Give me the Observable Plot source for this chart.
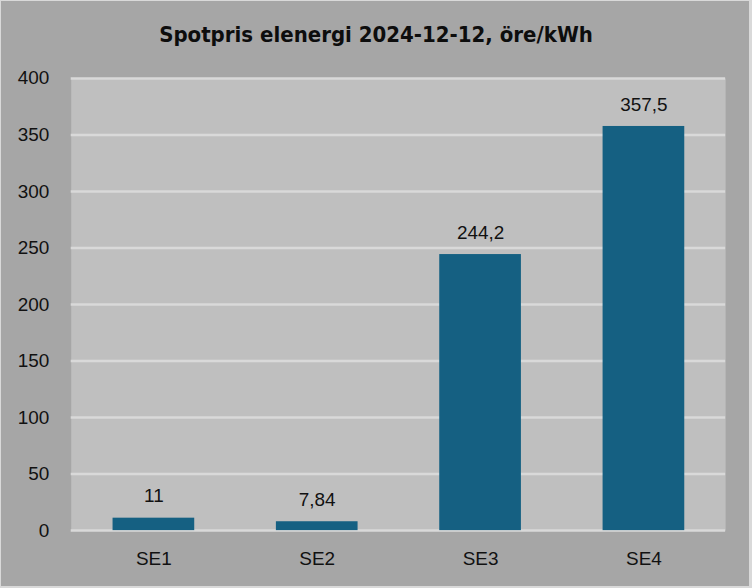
<!DOCTYPE html>
<html>
<head>
<meta charset="utf-8">
<script src="https://cdn.jsdelivr.net/npm/d3@7"></script>
<script src="https://cdn.jsdelivr.net/npm/@observablehq/plot@0.6"></script>
<style>
  html, body { margin: 0; padding: 0; background: #d9d9d9; }
  #frame {
    position: relative; width: 752px; height: 588px; box-sizing: border-box;
    background: #a6a6a6;
    border-left: 1px solid #d9d9d9; border-top: 1px solid #d9d9d9;
    border-right: 3px solid #d9d9d9; border-bottom: 2px solid #d9d9d9;
    overflow: hidden;
  }
  #title {
    position: absolute; left: 0; top: 0; width: 752px; height: 60px;
    display: flex; align-items: center; justify-content: center;
    font-family: "Liberation Sans Narrow", "DejaVu Sans Condensed", sans-serif;
    font-weight: bold; font-size: 22px; color: #0d0d0d;
    padding-top: 6px; box-sizing: border-box; margin-left: -1px;
  }
  #chart { position: absolute; left: -1px; top: 59px; }
</style>
</head>
<body>
<div id="frame">
  <div id="title">Spotpris elenergi 2024-12-12, öre/kWh</div>
  <div id="chart"></div>
</div>
<script>
const categories = ["SE1", "SE2", "SE3", "SE4"];
const prices = [11, 7.84, 244.2, 357.5];
const yTicks = [0, 50, 100, 150, 200, 250, 300, 350, 400];

const data = categories.map((c, i) => ({area: c, price: prices[i]}));
const fmt = v => String(v).replace(".", ",");

const chart = Plot.plot({
  width: 752,
  height: 528,
  marginLeft: 71,
  marginRight: 24,
  marginTop: 18,
  marginBottom: 56,
  style: {fontFamily: "Liberation Sans, Arial, sans-serif", fontSize: "19px", color: "#111", background: "transparent"},
  x: {domain: categories, paddingInner: 0.5, paddingOuter: 0.25, label: null, tickSize: 0, tickPadding: 21},
  y: {domain: [0, 400], ticks: yTicks, label: null, tickSize: 0, tickPadding: 22},
  marks: [
    Plot.frame({fill: "#bfbfbf", stroke: null}),
    Plot.ruleY(yTicks, {stroke: "#d9d9d9", strokeWidth: 2.5}),
    Plot.barY(data, {x: "area", y: "price", fill: "#156082"}),
    Plot.text(data, {x: "area", y: "price", text: d => fmt(d.price), lineAnchor: "bottom", dy: -16, fill: "#111", fontSize: 19})
  ]
});
document.getElementById("chart").appendChild(chart);
</script>
</body>
</html>
